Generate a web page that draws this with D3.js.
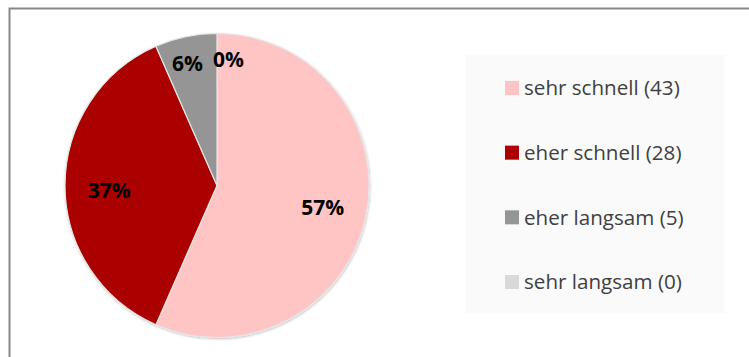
<!DOCTYPE html>
<html>
<head>
<meta charset="utf-8">
<script src="https://cdn.jsdelivr.net/npm/d3@7"></script>
<style>
  html, body { margin: 0; padding: 0; background: #fff; }
  svg { display: block; }
</style>
</head>
<body>
<div id="chart"></div>
<script>
// Data
const categories = ['sehr schnell', 'eher schnell', 'eher langsam', 'sehr langsam'];
const counts = [43, 28, 5, 0];
// percentages as printed on the slices
const percentLabels = [57, 37, 6, 0];
const colors = ['#ffc4c4', '#ab0000', '#959595', '#d9d9d9'];

const width = 749, height = 357;
const cx = 217, cy = 185.5, radius = 152;

const svg = d3.select('#chart').append('svg')
  .attr('width', width)
  .attr('height', height);

// slight shadow on slice edges
const defs = svg.append('defs');
defs.append('filter')
  .attr('id', 'shadow')
  .attr('x', '-10%').attr('y', '-10%').attr('width', '120%').attr('height', '120%')
  .append('feDropShadow')
  .attr('dx', 0.5).attr('dy', 1)
  .attr('stdDeviation', 0.8)
  .attr('flood-color', '#000')
  .attr('flood-opacity', 0.25);

// outer frame (only top and left are inside the picture)
svg.append('rect')
  .attr('x', 9.5).attr('y', 8.5)
  .attr('width', 780).attr('height', 400)
  .attr('fill', 'none')
  .attr('stroke', '#878787')
  .attr('stroke-width', 2);

const data = categories.map((c, i) => ({
  name: c, value: counts[i], pct: percentLabels[i], color: colors[i]
}));

const pie = d3.pie().sort(null).value(d => d.value);
const arcs = pie(data);
const arc = d3.arc().innerRadius(0).outerRadius(radius);

const g = svg.append('g').attr('transform', `translate(${cx},${cy})`);

g.append('g')
  .attr('filter', 'url(#shadow)')
  .selectAll('path')
  .data(arcs.filter(d => d.value > 0))
  .join('path')
  .attr('d', arc)
  .attr('fill', d => d.data.color)
  .attr('stroke', '#e6e6e6')
  .attr('stroke-width', 1.2);

// Labels
const bigLabelArc = d3.arc().innerRadius(radius * 0.71).outerRadius(radius * 0.71);
const smallLabelArc = d3.arc().innerRadius(radius * 0.82).outerRadius(radius * 0.82);

g.selectAll('text.lbl')
  .data(arcs)
  .join('text')
  .attr('class', 'lbl')
  .each(function(d) {
    const big = d.data.pct >= 10;
    const a = big ? bigLabelArc : smallLabelArc;
    let [x, y] = a.centroid(d);
    const t = d3.select(this);
    if (d.value === 0) {
      // zero slice sits at 12 o'clock: push label right of the boundary
      t.attr('text-anchor', 'start');
      x = -4;
      y = -radius * 0.83;
    } else {
      t.attr('text-anchor', 'middle');
      if (!big) x -= 4;
    }
    if (big && Math.abs(y) < 5) y += 5;
    t.attr('x', x).attr('y', y).attr('dy', '0.35em');
  })
  .attr('font-family', '"Open Sans", sans-serif')
  .attr('font-weight', 'bold')
  .attr('font-size', 21)
  .attr('fill', '#000')
  .text(d => d.data.pct + '%');

// Legend
const legend = svg.append('g');
legend.append('rect')
  .attr('x', 466).attr('y', 55)
  .attr('width', 259).attr('height', 258)
  .attr('fill', '#fafafa');

const legendY = d3.scalePoint()
  .domain(categories)
  .range([88, 282]);

const items = legend.selectAll('g.item')
  .data(data)
  .join('g')
  .attr('class', 'item')
  .attr('transform', d => `translate(505,${legendY(d.name)})`);

items.append('rect')
  .attr('x', 0).attr('y', -7)
  .attr('width', 14).attr('height', 14)
  .attr('fill', d => d.color);

items.append('text')
  .attr('x', 19)
  .attr('dy', '0.35em')
  .attr('font-family', '"Open Sans", sans-serif')
  .attr('font-size', 20.6)
  .attr('fill', '#404040')
  .text(d => `${d.name} (${d.value})`);
</script>
</body>
</html>
